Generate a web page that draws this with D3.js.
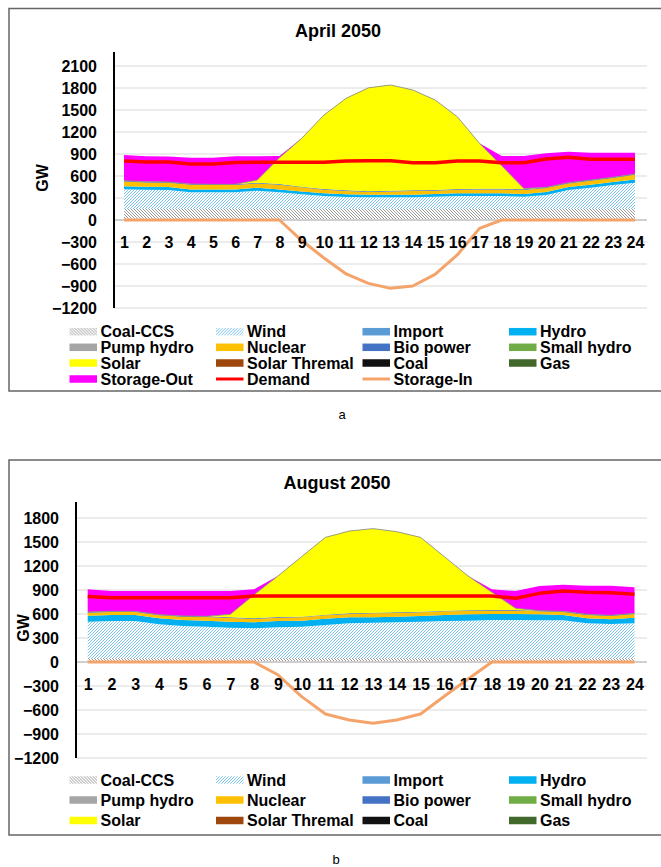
<!DOCTYPE html>
<html>
<head>
<meta charset="utf-8">
<title>April / August 2050</title>
<script src="https://cdn.jsdelivr.net/npm/d3@7"></script>
<style>
body{margin:0;background:#fff;}
text{font-family:"Liberation Sans",Arial,sans-serif;fill:#000;}
</style>
</head>
<body>
<svg width="661" height="867" id="mainsvg"></svg>
<script>
// hours of the day
const hours=[1,2,3,4,5,6,7,8,9,10,11,12,13,14,15,16,17,18,19,20,21,22,23,24];
const yTicksApr=[-1200,-900,-600,-300,0,300,600,900,1200,1500,1800,2100];
const yTicksAug=[-1200,-900,-600,-300,0,300,600,900,1200,1500,1800];
const zeros=[0,0,0,0,0,0,0,0,0,0,0,0,0,0,0,0,0,0,0,0,0,0,0,0];

// April 2050 (GW)
const aprCoalCCS=[150,150,150,150,150,150,150,150,150,150,150,150,150,150,150,150,150,150,150,150,150,150,150,150];
const aprWind=[268,262,259,227,227,227,250,227,200,177,164,159,159,159,168,177,177,177,168,191,259,291,327,359];
const aprHydro=[42,40,40,40,40,40,40,40,40,38,36,34,34,36,36,38,38,38,38,40,40,40,40,42];
const aprNuclear=[66,61,59,64,59,59,59,64,55,48,45,40,47,50,45,48,52,52,52,55,50,54,55,66];
const aprBio=[10,10,10,10,10,10,10,10,10,10,10,10,10,10,10,10,10,10,10,10,10,10,10,10];
const aprSolar=[0,0,0,0,0,0,36,359,659,1009,1255,1409,1441,1368,1228,986,619,313,10,0,0,0,0,0];
const aprStorageOut=[351,347,348,359,364,382,325,23,0,0,0,0,0,0,0,0,0,133,445,463,423,373,336,291];
const aprDemand=[805,790,790,765,765,785,787,787,787,787,805,809,809,782,782,805,805,782,782,832,855,828,828,828];
const aprStorageIn=[0,0,0,0,0,0,0,0,-280,-518,-736,-864,-932,-900,-741,-477,-114,0,0,0,0,0,0,0];

// August 2050 (GW)
const augCoalCCS=[50,50,50,50,50,50,50,50,50,50,50,50,50,50,50,50,50,50,50,50,50,50,50,50];
const augWind=[454,462,462,421,400,392,379,371,383,392,412,433,442,446,454,462,467,475,475,471,471,433,425,433];
const augHydro=[75,75,75,75,75,75,75,75,79,75,80,75,66,71,71,75,79,75,75,75,66,63,58,71];
const augNuclear=[38,38,38,38,42,46,46,42,42,42,42,42,51,46,46,47,42,42,42,38,38,42,42,46];
const augBio=[8,8,8,8,8,8,8,8,8,8,8,8,8,8,8,8,8,8,8,8,8,8,8,8];
const augSolar=[0,0,0,0,0,0,38,296,513,750,966,1029,1050,1008,929,675,429,223,21,0,0,0,0,0];
const augStorageOut=[285,255,255,296,313,317,292,66,0,0,0,0,0,0,0,0,0,35,216,308,334,358,371,325];
const augDemand=[820,804,804,804,804,804,804,825,825,825,825,825,825,825,825,825,825,825,796,858,887,871,867,846];
const augStorageIn=[0,0,0,0,0,0,0,0,-160,-433,-650,-725,-767,-725,-650,-429,-213,0,0,0,0,0,0,0];

const stackKeys=['Coal-CCS','Wind','Import','Hydro','Pump hydro','Nuclear','Bio power','Small hydro','Solar','Solar Thremal','Coal','Gas','Storage-Out'];
const color={
    'Coal-CCS':'url(#hatchCoal)',
    'Wind':'url(#hatchWind)',
    'Import':'#5B9BD5',
    'Hydro':'#00B0F0',
    'Pump hydro':'#A5A5A5',
    'Nuclear':'#FFC000',
    'Bio power':'#4472C4',
    'Small hydro':'#70AD47',
    'Solar':'#FFFF00',
    'Solar Thremal':'#9E480E',
    'Coal':'#111111',
    'Gas':'#43682B',
    'Storage-Out':'#FF00FF',
    'Demand':'#FF0000',
    'Storage-In':'#F4A46A'
};
const lineKeys=['Demand','Storage-In'];

const svg=d3.select('#mainsvg');
const defs=svg.append('defs');

// hatch fills
const pw=defs.append('pattern').attr('id','hatchWind').attr('patternUnits','userSpaceOnUse').attr('width',3).attr('height',3);
pw.append('rect').attr('width',3).attr('height',3).attr('fill','#ffffff');
pw.append('path').attr('d','M-1,1 l2,-2 M0,3 l3,-3 M2,4 l2,-2').attr('stroke','#4FB2EA').attr('stroke-width',0.75);
const pc=defs.append('pattern').attr('id','hatchCoal').attr('patternUnits','userSpaceOnUse').attr('width',3).attr('height',3);
pc.append('rect').attr('width',3).attr('height',3).attr('fill','#ffffff');
pc.append('path').attr('d','M-1,2 l2,2 M0,0 l3,3 M2,-1 l2,2').attr('stroke','#858585').attr('stroke-width',0.85);

function drawPanel(p){
    const g=svg.append('g');
    g.append('rect').attr('x',9).attr('y',p.boxTop).attr('width',670).attr('height',p.boxBottom-p.boxTop)
        .attr('fill','#fff').attr('stroke','#666').attr('stroke-width',1.5);
    g.append('text').attr('x',p.titleX).attr('y',p.titleY).attr('text-anchor','middle')
        .style('font-size','18px').style('font-weight','bold').text(p.title);

    const x=d3.scalePoint().domain(hours).range(p.xRange);
    const y=d3.scaleLinear().domain(p.yDomain).range(p.yRange);

    // gridlines
    g.selectAll('.grid').data(p.yTicks.filter(t=>t!==0)).join('line')
        .attr('class','grid')
        .attr('x1',p.axisX).attr('x2',647)
        .attr('y1',d=>y(d)).attr('y2',d=>y(d))
        .attr('stroke','#d9d9d9').attr('stroke-width',1);

    // stacked areas
    const rows=hours.map((h,i)=>{
        const r={hour:h};
        stackKeys.forEach(k=>{ r[k]=p.series[k][i]; });
        return r;
    });
    const stacked=d3.stack().keys(stackKeys)(rows);
    const area=d3.area().x(d=>x(d.data.hour)).y0(d=>y(d[0])).y1(d=>y(d[1]));
    g.selectAll('.layer').data(stacked).join('path')
        .attr('class','layer')
        .attr('d',area)
        .attr('fill',d=>color[d.key]);

    // thin outline on top of solar
    const solarLayer=stacked.find(s=>s.key==='Solar');
    g.append('path')
        .attr('d',d3.line().x(d=>x(d.data.hour)).y(d=>y(d[1]))(solarLayer))
        .attr('fill','none').attr('stroke','#8f9080').attr('stroke-width',0.9);

    // zero (category) axis
    g.append('line').attr('x1',p.axisX).attr('x2',647).attr('y1',y(0)).attr('y2',y(0))
        .attr('stroke','#cfcfcf').attr('stroke-width',2);

    // lines
    const line=d3.line().x((d,i)=>x(hours[i])).y(d=>y(d));
    g.append('path').attr('d',line(p.series['Storage-In']))
        .attr('fill','none').attr('stroke',color['Storage-In']).attr('stroke-width',3).attr('stroke-linejoin','round');
    g.append('path').attr('d',line(p.series['Demand']))
        .attr('fill','none').attr('stroke',color['Demand']).attr('stroke-width',3.5).attr('stroke-linejoin','round');

    // y axis
    const yAxis=d3.axisLeft(y).tickValues(p.yTicks).tickFormat(d3.format('d')).tickSize(0).tickPadding(17);
    const yg=g.append('g').attr('transform',`translate(${p.axisX},0)`).call(yAxis);
    yg.select('.domain').remove();
    yg.selectAll('text').style('font-size','16px').style('font-weight','bold').style('font-family','"Liberation Sans",Arial,sans-serif');
    g.append('line').attr('x1',p.axisX).attr('x2',p.axisX).attr('y1',p.axisTop).attr('y2',p.yRange[0])
        .attr('stroke','#000').attr('stroke-width',2);

    // x labels
    const xAxis=d3.axisBottom(x).tickSize(0).tickPadding(16.5);
    const xg=g.append('g').attr('transform',`translate(0,${y(0)})`).call(xAxis);
    xg.select('.domain').remove();
    xg.selectAll('text').style('font-size','16px').style('font-weight','bold').style('font-family','"Liberation Sans",Arial,sans-serif');

    // GW label
    g.append('text').attr('transform',`translate(${p.gwX},${p.gwY}) rotate(-90)`)
        .attr('text-anchor','middle').attr('dy','0.35em')
        .style('font-size','16px').style('font-weight','bold').text('GW');

    // legend
    const colX=[69.5,216,362.5,509];
    const legend=g.selectAll('.legend').data(p.legendItems).join('g')
        .attr('class','legend')
        .attr('transform',(d,i)=>`translate(${colX[i%4]},${p.legendRows[Math.floor(i/4)]})`);
    legend.each(function(d){
        const el=d3.select(this);
        if(lineKeys.includes(d)){
            el.append('line').attr('x1',0).attr('x2',27.5).attr('y1',0).attr('y2',0)
                .attr('stroke',color[d]).attr('stroke-width',3);
        }else{
            el.append('rect').attr('x',0).attr('y',-3.75).attr('width',27.5).attr('height',7.5).attr('fill',color[d]);
        }
    });
    legend.append('text').attr('x',31).attr('dy','0.35em')
        .style('font-size','16px').style('font-weight','bold').text(d=>d);

    svg.append('text').attr('x',p.captionX).attr('y',p.captionY).attr('text-anchor','middle')
        .style('font-size','13px').text(p.caption);
}

drawPanel({
    title:'April 2050', titleX:338, titleY:37,
    boxTop:8.5, boxBottom:391,
    yDomain:[-1200,2100], yRange:[308,66], yTicks:yTicksApr,
    xRange:[124,635], axisX:114, axisTop:52,
    gwX:42, gwY:178,
    legendRows:[331.7,347.3,363,379],
    legendItems:['Coal-CCS','Wind','Import','Hydro','Pump hydro','Nuclear','Bio power','Small hydro','Solar','Solar Thremal','Coal','Gas','Storage-Out','Demand','Storage-In'],
    caption:'a', captionX:342, captionY:419,
    series:{
        'Coal-CCS':aprCoalCCS,'Wind':aprWind,'Import':zeros,'Hydro':aprHydro,'Pump hydro':zeros,
        'Nuclear':aprNuclear,'Bio power':aprBio,'Small hydro':zeros,'Solar':aprSolar,'Solar Thremal':zeros,
        'Coal':zeros,'Gas':zeros,'Storage-Out':aprStorageOut,'Demand':aprDemand,'Storage-In':aprStorageIn
    }
});

drawPanel({
    title:'August 2050', titleX:337, titleY:489,
    boxTop:460, boxBottom:835,
    yDomain:[-1200,1800], yRange:[758,518], yTicks:yTicksAug,
    xRange:[87.7,634.5], axisX:76, axisTop:502,
    gwX:23, gwY:628,
    legendRows:[780,800,820.5],
    legendItems:['Coal-CCS','Wind','Import','Hydro','Pump hydro','Nuclear','Bio power','Small hydro','Solar','Solar Thremal','Coal','Gas'],
    caption:'b', captionX:336, captionY:864,
    series:{
        'Coal-CCS':augCoalCCS,'Wind':augWind,'Import':zeros,'Hydro':augHydro,'Pump hydro':zeros,
        'Nuclear':augNuclear,'Bio power':augBio,'Small hydro':zeros,'Solar':augSolar,'Solar Thremal':zeros,
        'Coal':zeros,'Gas':zeros,'Storage-Out':augStorageOut,'Demand':augDemand,'Storage-In':augStorageIn
    }
});
</script>
</body>
</html>
